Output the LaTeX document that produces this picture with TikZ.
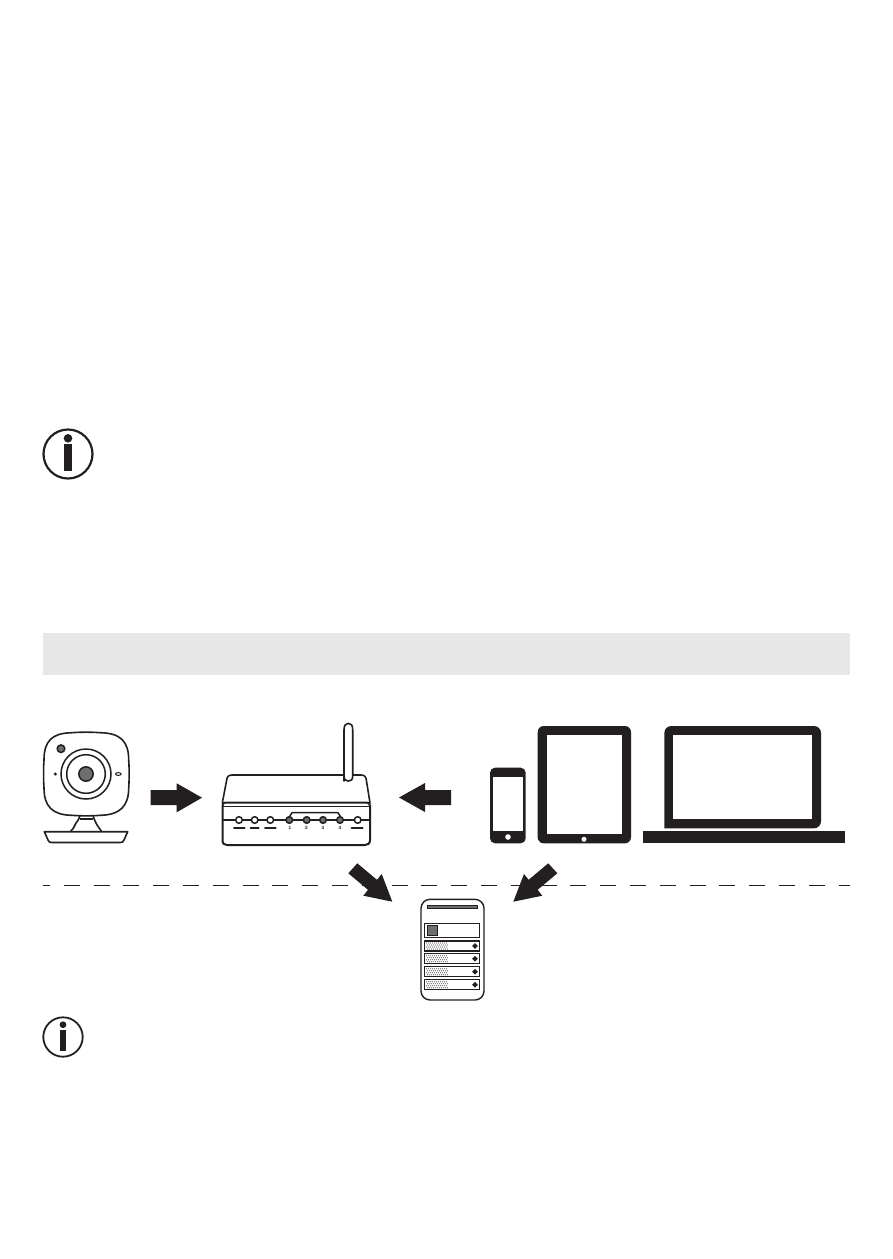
\documentclass[tikz,border=0pt]{standalone}
\usepackage{fontspec}
\setmainfont{Liberation Sans}
\definecolor{ink}{HTML}{231F20}
\definecolor{midgray}{HTML}{6D6E70}
\definecolor{band}{HTML}{E7E7E8}
\tikzset{
  outline/.style={draw=ink,line width=1.6pt,fill=white,line join=round},
  led/.style={draw=ink,line width=1.5pt,fill=white},
  ledon/.style={draw=ink,line width=1.5pt,fill=midgray},
  row/.style={draw=ink,line width=1.5pt,fill=white},
  numtext/.style={font=\fontsize{4.6}{5}\selectfont\bfseries,text=ink,inner sep=0pt}
}
\begin{document}
\begin{tikzpicture}[x=1pt,y=-1pt]
\useasboundingbox (0,0) rectangle (893,1259);
\fill[white] (0,0) rectangle (893,1259);
% info icon 1
\draw[ink,line width=2.2pt] (68,454) circle[radius=24.5];
\fill[ink] (68,438.3) circle[radius=4.3];
\fill[ink] (64,444.3) rectangle (72.3,470.7);
% band
\fill[band] (43,633) rectangle (850,675);
% camera
\draw[outline] (80,815) -- (93,815) .. controls (94,819) and (95,821) .. (96,823) .. controls (98,827) and (100,829) .. (102,832) -- (70,832) .. controls (73,829) and (75,826) .. (76,823) .. controls (78,821) and (79,819) .. (80,815) -- cycle;
\draw[ink,line width=1.1pt] (80,819) -- (93,819);
\draw[outline] (44.3,831.7) -- (127.7,831.7) -- (124,840) .. controls (123.5,842) and (122,842.5) .. (120,842.5) -- (52,842.5) .. controls (50,842.5) and (48.5,842) .. (48,840) -- cycle;
\draw[outline] (72,732.7) .. controls (80,732) and (92,732) .. (100,732.7) .. controls (120,733) and (128.7,741) .. (128.7,760) .. controls (129.3,768) and (129.3,780) .. (128.7,788) .. controls (128.7,806) and (120,815) .. (100,815.3) .. controls (92,816) and (80,816) .. (72,815.3) .. controls (52,815) and (44,806) .. (44,788) .. controls (43.4,780) and (43.4,768) .. (44,760) .. controls (44,741) and (52,733) .. (72,732.7) -- cycle;
\draw[ledon] (61,748.7) circle[radius=3.8];
\draw[ink,line width=1.5pt] (86,774) circle[radius=25];
\draw[ink,line width=1.5pt] (86,774) circle[radius=19.3];
\draw[ledon] (86,774) circle[radius=7.2];
\fill[ink] (55.3,774) circle[radius=1.7];
\draw[ink,line width=1pt] (118.3,774) ellipse[x radius=2.8,y radius=1.4];
% block arrow 1
\fill[ink] (150.7,790) -- (176.7,790) -- (176.7,783.3) -- (202,797.7) -- (176.7,812.3) -- (176.7,805) -- (150.7,805) -- cycle;
% router
\draw[outline] (222.3,803) -- (226.5,781) .. controls (227,777) and (228,775) .. (232,775) -- (361,775) .. controls (365,775) and (366,777) .. (366.5,781) -- (370,803) -- cycle;
\draw[outline] (344,781) -- (344,730) .. controls (344,725) and (346,723.3) .. (348.3,723.3) .. controls (351,723.3) and (352.7,725) .. (352.7,730) -- (352.7,776) .. controls (352.7,780) and (351,781) .. (348.3,781) .. controls (346,781) and (344,780) .. (344,776) -- cycle;
\draw[outline,line width=2pt] (222.5,806) .. controls (222.5,803) and (224,802.5) .. (226,802.5) -- (366,802.5) .. controls (368.5,802.5) and (370,803) .. (370,806) -- (370,840) .. controls (370,843.5) and (368,845) .. (365,845) -- (227,845) .. controls (224,845) and (222.5,843.5) .. (222.5,840) -- cycle;
\draw[ink,line width=1.5pt] (223,806.7) -- (370,806.7);
\draw[ink,line width=1.2pt] (223,820) -- (370,820);
\draw[ink,line width=1.5pt,line join=round] (289.3,817) -- (292,812.7) -- (338,812.7) -- (340.7,817);
\foreach \x in {239,254.7,270.3,357.7} \draw[led] (\x,820) circle[radius=3.3];
\foreach \x in {289.3,306.7,323,340} \draw[ledon] (\x,820) circle[radius=3.3];
\foreach \a/\b in {234/244.7,250.7/258.7,265/275.7,351.7/362.7} \draw[ink,line width=2pt,line cap=round] (\a,828.3) -- (\b,828.3);
\node[numtext] (n1) at (290,828.3) {1};
\node[numtext] (n2) at (306.5,828.3) {2};
\node[numtext] (n3) at (323,828.3) {3};
\node[numtext] (n4) at (340,828.3) {4};
% block arrow 2
\fill[ink] (451,790) -- (425,790) -- (425,783) -- (399,797.5) -- (425,812) -- (425,805) -- (451,805) -- cycle;
% phone
\fill[ink,rounded corners=5pt] (490,767.7) rectangle (525.7,843.3);
\fill[white] (493,777) rectangle (523,831);
\fill[white] (508,837) circle[radius=2.8];
% tablet
\fill[ink,rounded corners=6pt] (537.7,726) rectangle (631,843.3);
\fill[white] (547,735) rectangle (622,834.3);
\fill[white] (584,839.3) circle[radius=2.5];
% laptop
\fill[ink,rounded corners=7pt] (664.3,828.3) -- (664.3,726) -- (821,726) -- (821,828.3) [sharp corners] -- cycle;
\fill[white] (673.3,735) rectangle (812,819.3);
\fill[ink] (643,831.3) rectangle (845,843);
% dashed line
\draw[ink,line width=1pt,dash pattern=on 16pt off 13.8pt,dash phase=9pt] (43,885.5) -- (850,885.5);
% diagonal arrows
\fill[ink] (348.3,873.3) -- (357.3,863.3) -- (377,879.8) -- (381.7,874) -- (392.3,901.7) -- (363.3,895.7) -- (368,889.8) -- cycle;
\fill[ink] (557.3,873.3) -- (548.3,863.3) -- (528.6,879.8) -- (524,874) -- (513.3,901.7) -- (542.3,895.7) -- (537.6,889.8) -- cycle;
% app screen
\draw[ink,line width=1.4pt,fill=white,rounded corners=9pt] (421,899.3) rectangle (484,1000);
\draw[ink,line width=0.8pt,fill=midgray] (427.3,905.3) rectangle (477,908.7);
\draw[row] (424.3,923.3) rectangle (479.3,937.7);
\draw[ink,line width=1.2pt,fill=midgray] (427.5,925.8) rectangle (437.2,935.2);
\foreach \y in {941,953.7,966.7,979.7} {
  \draw[row] (424.3,\y) rectangle (479.3,\y+10);
  \fill[ink] (475,\y+2.2) -- (477.8,\y+5) -- (475,\y+7.8) -- (472.2,\y+5) -- cycle;
  \foreach \i in {0,...,10} \foreach \j in {0,1,2,3} {
    \fill[ink!65] ({426.5+2*\i+\j-floor(\j/2)*2},\y+2+2*\j) circle[radius=0.55];
  }
}
% info icon 2
\draw[ink,line width=1.8pt] (63,1037) circle[radius=19.7];
\fill[ink] (63,1024.7) circle[radius=3.4];
\fill[ink] (60,1030) rectangle (66,1050.7);
\end{tikzpicture}
\end{document}
